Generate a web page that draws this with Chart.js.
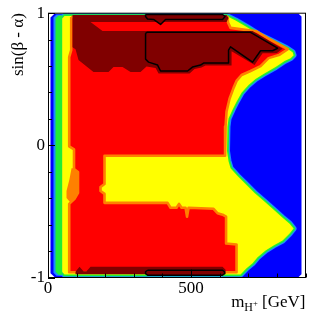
<!DOCTYPE html>
<html><head><meta charset="utf-8">
<style>html,body{margin:0;padding:0;background:#fff;}canvas{display:block;}</style>
<script src="https://cdn.jsdelivr.net/npm/chart.js@4/dist/chart.umd.min.js"></script>
</head><body>
<canvas id="c" width="315" height="316"></canvas>
<script>
// ---- axes ----
const xAxisRange = [0, 900];
const yAxisRange = [-1, 1];
const xMinorStep = 100;
const yMinorStep = 0.2;
const xLabelValues = [0, 500];
const yLabelValues = [-1, 0, 1];

// ---- contour regions (m_H+ [GeV], sin(beta-alpha)) ----
const blueRegion = [[8.7,0.9675],[22.7,0.9955],[876,0.9955],[886,0.975],[886,-0.975],[876,-0.996],[22.7,-0.996],[8.7,-0.9675]];
const cyanLeft = [[19.2,0.9675],[29.7,0.99],[50.7,0.99],[50.7,-0.9865],[29.7,-0.9865],[19.2,-0.964]];
const greenLeft = [[26.2,0.96],[36.7,0.9825],[50.7,0.9825],[50.7,-0.979],[36.7,-0.979],[26.2,-0.9565]];
const yellowRegion = [[49.6,0.96],[57.7,0.979],[624,0.979],[634.5,0.9675],[655.6,0.945],[697.5,0.8925],[736,0.84],[771,0.8025],[806,0.765],[834,0.735],[855,0.705],[858.4,0.6825],[848,0.66],[827,0.6375],[795.5,0.5925],[753.5,0.54],[725.5,0.5025],[701,0.4575],[676.6,0.3975],[659,0.33],[645,0.27],[631,0.2025],[627.4,0.1425],[625.7,-0.045],[631,-0.12],[638,-0.1725],[662.6,-0.2325],[690.6,-0.2925],[722,-0.36],[753.5,-0.42],[785,-0.48],[820,-0.5475],[844.5,-0.5925],[858.4,-0.63],[844.5,-0.6675],[820,-0.72],[788.5,-0.7575],[760.5,-0.795],[732.5,-0.8475],[715,-0.8925],[694,-0.93],[673,-0.9775],[57.7,-0.9775],[49.6,-0.958]];
const orangeBulge = [[82.2,-0.1725],[106.6,-0.1725],[106.6,-0.405],[82.2,-0.4425],[64.7,-0.3975],[64.7,-0.345],[75.2,-0.255]];
const redRegion = [[81.1,0.9715],[627.4,0.9715],[629.3,0.93],[638,0.889],[729,0.8625],[778,0.799],[838,0.7275],[809.5,0.686],[771,0.66],[743,0.6],[708,0.5625],[676.6,0.5325],[659,0.4875],[648.6,0.435],[634.5,0.3525],[624,0.255],[620.6,0.1425],[618.9,-0.0788],[197.5,-0.0788],[197.5,-0.2925],[183.6,-0.315],[183.6,-0.345],[197.5,-0.3675],[197.5,-0.435],[417.8,-0.435],[428.3,-0.4725],[449.3,-0.4725],[458,-0.4425],[466.8,-0.4725],[480.8,-0.4725],[486,-0.54],[491.3,-0.4725],[578.7,-0.48],[592.7,-0.5138],[610.1,-0.525],[622.4,-0.54],[622.4,-0.7425],[659,-0.75],[659,-0.96],[74.1,-0.96],[74.1,-0.4425],[92.7,-0.405],[104.9,-0.36],[104.9,-0.2025],[90.9,-0.18],[90.9,-0.03],[74.1,-0.0075],[74.1,0.6675],[81.1,0.72]];
const darkRedRegion = [[85.7,0.986],[624,0.986],[631,0.964],[624,0.934],[148.6,0.934],[190.6,0.866],[715,0.866],[820,0.731],[799,0.6975],[750,0.6975],[722,0.6075],[641.6,0.7125],[641.6,0.604],[550.7,0.604],[536.7,0.589],[512.2,0.5775],[494.8,0.544],[386.4,0.544],[375.9,0.585],[344.4,0.596],[323.4,0.555],[288.5,0.555],[260.5,0.5925],[229,0.5925],[211.5,0.555],[159,0.555],[106.6,0.645],[96.2,0.7275],[85.7,0.7425]];
const darkRedBottom = [[96.2,-0.975],[96.2,-0.9565],[110.1,-0.919],[124.1,-0.953],[134.6,-0.953],[148.6,-0.919],[610.1,-0.919],[620.6,-0.9415],[620.6,-0.975]];
const contourTop = [[341,0.99],[610,0.99],[619,0.975],[610,0.9525],[410.8,0.9525],[393.4,0.915],[369,0.9525],[348,0.9565],[341,0.975]];
const contourMid = [[341,0.848],[346,0.855],[708,0.855],[802.5,0.735],[785,0.716],[743,0.716],[715,0.63],[638,0.746],[631,0.72],[631,0.6225],[543.7,0.6225],[533,0.6075],[505,0.5925],[487.8,0.5625],[393.4,0.5625],[383,0.6075],[351.5,0.63],[341,0.6525]];
const contourBottom = [[348,-0.945],[610,-0.945],[617,-0.9565],[617,-0.9715],[610,-0.9825],[348,-0.9825],[341,-0.9715],[341,-0.9565]];

// ---- layers, bottom first ----
const layers = [
  {data: blueRegion, fill: '#0000ff'},
  {data: yellowRegion, stroke: '#1a8cff', width: 6},
  {data: yellowRegion, stroke: '#22ee33', width: 3.4},
  {data: cyanLeft, fill: '#1a8cff'},
  {data: greenLeft, fill: '#22ee33'},
  {data: yellowRegion, fill: '#ffff00'},
  {data: orangeBulge, fill: '#ff8000'},
  {data: redRegion, fill: '#ff0000', stroke: '#ff8000', width: 2.6},
  {data: darkRedRegion, fill: '#800000'},
  {data: darkRedBottom, fill: '#800000'},
  {data: contourTop, fill: '#800000', stroke: '#000000', width: 1.5},
  {data: contourMid, fill: '#800000', stroke: '#000000', width: 1.5},
  {data: contourBottom, fill: '#800000', stroke: '#000000', width: 1.5}
];

const toPts = a => { const p = a.map(([x, y]) => ({x, y})); p.push({x: a[0][0], y: a[0][1]}); return p; };
const N = layers.length;
const datasets = layers.map((l, i) => ({
  data: toPts(l.data),
  fill: l.fill ? 'shape' : false,
  backgroundColor: l.fill || 'rgba(0,0,0,0)',
  borderColor: l.stroke || 'rgba(0,0,0,0)',
  borderWidth: l.width || 0.01,
  borderJoinStyle: 'round',
  pointRadius: 0, pointHoverRadius: 0, tension: 0,
  clip: 0, order: N - i
}));

const serif = '"Liberation Serif", "Times New Roman", serif';

const framePlugin = {
  id: 'frame',
  afterDraw(chart) {
    const ctx = chart.ctx, a = chart.chartArea;
    const xs = chart.scales.x, ys = chart.scales.y;
    ctx.save();
    ctx.strokeStyle = '#000'; ctx.lineWidth = 1;
    ctx.strokeRect(a.left + 0.5, a.top, a.right - a.left - 0.5, a.bottom - a.top);
    ctx.beginPath();
    xs.ticks.forEach(t => {
      const px = Math.round(xs.getPixelForValue(t.value)) + 0.5;
      const len = xLabelValues.includes(t.value) ? 8 : 4;
      ctx.moveTo(px, a.bottom); ctx.lineTo(px, a.bottom - len);
    });
    ys.ticks.forEach(t => {
      const py = Math.round(ys.getPixelForValue(t.value)) + 0.5;
      const r = Math.round(t.value);
      const len = (Math.abs(t.value - r) < 1e-6 && yLabelValues.includes(r)) ? 7 : 4;
      ctx.moveTo(a.left, py); ctx.lineTo(a.left + len, py);
    });
    ctx.stroke();
    ctx.fillStyle = '#000';
    // y title
    ctx.save();
    ctx.translate(19, a.top);
    ctx.rotate(-Math.PI / 2);
    ctx.font = '17px ' + serif;
    ctx.textAlign = 'right'; ctx.textBaseline = 'middle';
    ctx.fillText('sin(\u03B2 - \u03B1)', 0, 0);
    ctx.restore();
    // x title: m_{H^{+}} [GeV]
    const base = 307;
    const parts = [
      {t: 'm', f: 17, dy: 0},
      {t: 'H', f: 12, dy: 3.5},
      {t: '+', f: 8.5, dy: -1.5},
      {t: ' [GeV]', f: 17, dy: 0}
    ];
    ctx.textBaseline = 'alphabetic'; ctx.textAlign = 'left';
    let total = 0;
    parts.forEach(p => { ctx.font = p.f + 'px ' + serif; p.w = ctx.measureText(p.t).width; total += p.w; });
    let x = 305.5 - total;
    parts.forEach(p => { ctx.font = p.f + 'px ' + serif; ctx.fillText(p.t, x, base + p.dy); x += p.w; });
    ctx.restore();
  }
};

new Chart(document.getElementById('c'), {
  type: 'line',
  data: {datasets},
  options: {
    responsive: false, animation: false, devicePixelRatio: 1, events: [],
    layout: {padding: {left: 0, right: 9.5, top: 10.5, bottom: 0}},
    plugins: {legend: {display: false}, tooltip: {enabled: false}},
    scales: {
      x: {
        type: 'linear', min: xAxisRange[0], max: xAxisRange[1],
        afterFit: s => { s.height = 38.5; },
        grid: {display: false, drawTicks: false}, border: {display: false},
        ticks: {stepSize: xMinorStep, autoSkip: false, maxRotation: 0, minRotation: 0, padding: 0.5, color: '#000',
          font: {family: serif, size: 17},
          callback: v => xLabelValues.includes(v) ? String(v) : ''}
      },
      y: {
        type: 'linear', min: yAxisRange[0], max: yAxisRange[1],
        afterFit: s => { s.width = 48; },
        grid: {display: false, drawTicks: false}, border: {display: false},
        ticks: {stepSize: yMinorStep, autoSkip: false, padding: 3, color: '#000',
          font: {family: serif, size: 17},
          callback: v => { const r = Math.round(v); return (Math.abs(v - r) < 1e-6 && yLabelValues.includes(r)) ? String(r) : ''; }}
      }
    }
  },
  plugins: [framePlugin]
});
</script>
</body></html>
